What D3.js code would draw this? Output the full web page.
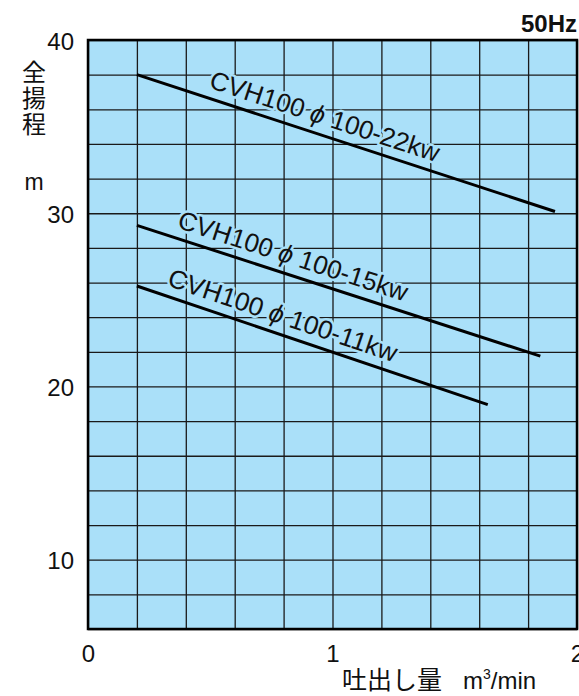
<!DOCTYPE html>
<html><head><meta charset="utf-8">
<script src="https://cdn.jsdelivr.net/npm/d3@7"></script>
<style>
html,body{margin:0;padding:0;background:#fff;}
svg{display:block;font-family:"Liberation Sans",Arial,sans-serif;}
</style></head>
<body>
<svg id="chart" width="579" height="696"></svg>
<script>
// ---- data ----
const seriesNames = ["CVH100", "CVH100", "CVH100"];
const seriesLabels = ["100-22kw", "100-15kw", "100-11kw"];
const flow22 = [0.2, 1.91];
const head22 = [38.0, 30.1];
const flow15 = [0.2, 1.85];
const head15 = [29.3, 21.75];
const flow11 = [0.2, 1.635];
const head11 = [25.8, 18.95];
const labelStartFlow = [0.478, 0.348, 0.307];
const xTickLabels = [0, 1, 2];
const yTickLabels = [10, 20, 30, 40];
const xGrid = d3.range(0, 2.0001, 0.2);
const yGrid = d3.range(6, 40.0001, 2);

const svg = d3.select("#chart");
const L = 88, R = 577, T = 40, B = 629;
const x = d3.scaleLinear().domain([0, 2]).range([L, R]);
const y = d3.scaleLinear().domain([6, 40]).range([B, T]);
const bg = "#aae0f9";

svg.append("rect").attr("x", L).attr("y", T).attr("width", R - L).attr("height", B - T).attr("fill", bg);

// grid
svg.append("g").attr("transform", `translate(0,${B})`)
  .call(d3.axisBottom(x).tickValues(xGrid).tickSize(-(B - T)).tickFormat(""))
  .call(g => g.select(".domain").remove())
  .call(g => g.selectAll("line").attr("stroke", "#1a1a1a").attr("stroke-width", 1.3));
svg.append("g").attr("transform", `translate(${L},0)`)
  .call(d3.axisLeft(y).tickValues(yGrid).tickSize(-(R - L)).tickFormat(""))
  .call(g => g.select(".domain").remove())
  .call(g => g.selectAll("line").attr("stroke", "#1a1a1a").attr("stroke-width", 1.3));

// series
const series = [
  {f: flow22, h: head22},
  {f: flow15, h: head15},
  {f: flow11, h: head11}
];
const line = d3.line().x(d => x(d[0])).y(d => y(d[1]));
series.forEach((s, i) => {
  const pts = s.f.map((f, j) => [f, s.h[j]]);
  const slope = (s.h[1] - s.h[0]) / (s.f[1] - s.f[0]);
  const lf = labelStartFlow[i];
  const lh = s.h[0] + slope * (lf - s.f[0]);
  const ang = Math.atan2(y(s.h[1]) - y(s.h[0]), x(s.f[1]) - x(s.f[0])) * 180 / Math.PI;
  const t = svg.append("text")
    .attr("transform", `translate(${x(lf)},${y(lh)}) rotate(${ang})`)
    .attr("y", -10)
    .attr("font-size", 26)
    .attr("textLength", 240)
    .attr("lengthAdjust", "spacingAndGlyphs")
    .attr("fill", "#111")
    .attr("stroke", bg).attr("stroke-width", 5).attr("paint-order", "stroke")
    .attr("stroke-linejoin", "round");
  t.append("tspan").text(seriesNames[i] + " ");
  t.append("tspan").attr("font-style", "italic").text("ϕ");
  t.append("tspan").text(" " + seriesLabels[i]);
  svg.append("path").datum(pts).attr("d", line)
    .attr("fill", "none").attr("stroke", "#000").attr("stroke-width", 3);
});

// frame
svg.append("rect").attr("x", L).attr("y", T).attr("width", R - L).attr("height", B - T)
  .attr("fill", "none").attr("stroke", "#000").attr("stroke-width", 2.5);

// tick labels
svg.append("g").attr("transform", `translate(${L - 11},0)`)
  .call(d3.axisLeft(y).tickValues(yTickLabels).tickSize(0).tickFormat(d3.format("d")))
  .call(g => g.select(".domain").remove())
  .call(g => g.selectAll("text").attr("font-size", 24).attr("fill", "#111")
    .attr("font-family", "Liberation Sans, Arial, sans-serif").attr("dx", 0).attr("dy", "0.38em"));
svg.append("g").attr("transform", `translate(0,${B + 13})`)
  .call(d3.axisBottom(x).tickValues(xTickLabels).tickSize(0).tickFormat(d3.format("d")))
  .call(g => g.select(".domain").remove())
  .call(g => g.selectAll("text").attr("font-size", 24).attr("fill", "#111")
    .attr("font-family", "Liberation Sans, Arial, sans-serif"));

// titles
svg.append("text").attr("x", 577).attr("y", 32).attr("text-anchor", "end")
  .attr("font-size", 24).attr("font-weight", "bold").attr("fill", "#111").text("50Hz");
svg.append("text").attr("x", 34).attr("y", 60)
  .attr("writing-mode", "vertical-rl")
  .attr("font-size", 24).attr("letter-spacing", 2).attr("fill", "#111")
  .attr("font-family", "Noto Sans CJK JP, sans-serif").text("全揚程");
svg.append("text").attr("x", 34).attr("y", 190).attr("text-anchor", "middle")
  .attr("font-size", 23).attr("fill", "#111").text("m");
svg.append("text").attr("x", 342).attr("y", 689)
  .attr("font-size", 25).attr("fill", "#111")
  .attr("font-family", "Noto Sans CJK JP, sans-serif").text("吐出し量");
const xt = svg.append("text").attr("x", 463).attr("y", 689)
  .attr("font-size", 24).attr("fill", "#111");
xt.append("tspan").text("m");
xt.append("tspan").attr("font-size", 14).attr("dy", -10).text("3");
xt.append("tspan").attr("dy", 10).text("/min");
</script>
</body></html>
